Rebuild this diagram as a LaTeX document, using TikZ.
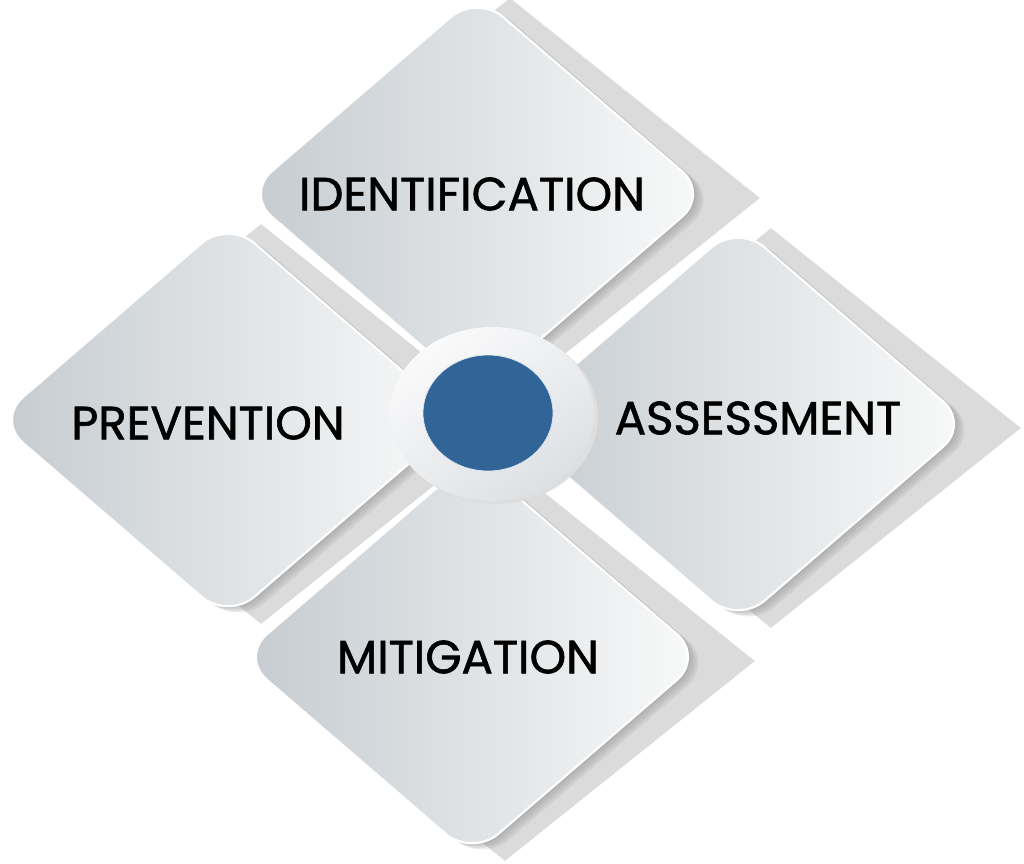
\documentclass[tikz,border=0pt]{standalone}
\usepackage{fontspec}
\newfontfamily\petalfont{Poppins}[FakeBold=1.3]
\usetikzlibrary{shapes.geometric}
\definecolor{petalLeft}{RGB}{197,203,208}
\definecolor{petalRight}{RGB}{249,250,250}
\definecolor{plateGray}{RGB}{219,219,219}
\definecolor{rimGray}{RGB}{140,140,140}
\definecolor{hubBlue}{RGB}{49,101,152}
\definecolor{ringLight}{RGB}{250,250,251}
\definecolor{ringDark}{RGB}{221,224,227}

\begin{document}
\begin{tikzpicture}[
    x=0.02cm, y=-0.02cm,
    % shadow plate behind a petal
    plate/.style={
        diamond, inner sep=0pt, draw=none,
        fill=plateGray,
        minimum width=10cm, minimum height=8cm
    },
    % soft dark edge under a petal
    rim/.style={
        diamond, inner sep=0pt, draw=none,
        rounded corners=0.7cm,
        fill=rimGray, fill opacity=0.16,
        minimum width=9.28cm, minimum height=8cm
    },
    % the four petals
    petal/.style={
        diamond, inner sep=0pt,
        rounded corners=0.7cm,
        left color=petalLeft, right color=petalRight,
        draw=white, line width=1.2pt,
        minimum width=9.28cm, minimum height=8cm
    },
    caption/.style={
        inner sep=0pt, text=black,
        font=\petalfont\fontsize{26.5}{30}\selectfont
    },
    % centre hub
    ring/.style={
        ellipse, inner sep=0pt, draw=none,
        top color=ringLight, bottom color=ringDark, shading angle=35,
        minimum width=4.08cm, minimum height=3.48cm
    },
    hub/.style={
        ellipse, inner sep=0pt,
        fill=hubBlue, draw=white!85!hubBlue, line width=0.4pt,
        minimum width=2.6cm, minimum height=2.32cm
    }
]
    \useasboundingbox (0,0) rectangle (1024,863);

    % --- petals, left to right so each covers the shadow of the one before ---
    \foreach \tag/\cx/\cy in {prv/228/420, idf/477/194, mtg/472/657, asm/738/424}{
        \node[plate] (\tag plate) at (\cx+33,\cy+4) {};
        \foreach \s in {1,...,4}
            \node[rim] (\tag rim\s) at (\cx+2.5*\s,\cy+1.5*\s) {};
        \node[petal] (\tag) at (\cx,\cy) {};
    }

    % --- labels ---
    \node[caption] (idftext) at (472,194) {IDENTIFICATION};
    \node[caption] (prvtext) at (208,423) {PREVENTION};
    \node[caption] (asmtext) at (758,418) {ASSESSMENT};
    \node[caption] (mtgtext) at (468,657) {MITIGATION};

    % --- hub ---
    \node[ellipse, inner sep=0pt, fill=black!13, minimum width=4.08cm, minimum height=3.48cm] (hubshadow) at (496,417) {};
    \node[ring] (ringnode) at (492,414) {};
    \node[hub] (hubnode) at (488,413) {};

\end{tikzpicture}
\end{document}
